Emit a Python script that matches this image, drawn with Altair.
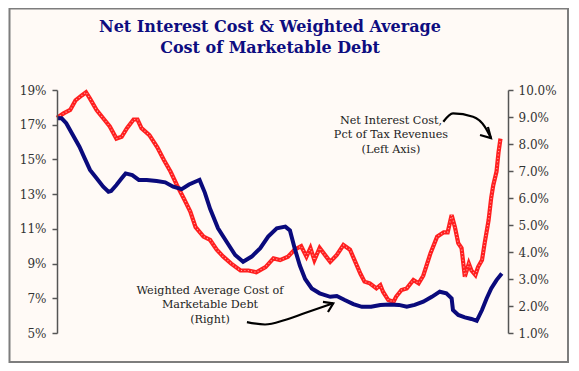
import altair as alt
import pandas as pd

# ---- data ----
red_years = [1990.0, 1990.5, 1991.0, 1991.4, 1991.9, 1992.2, 1992.5, 1993.0, 1993.5, 1994.0,
             1994.5, 1994.9, 1995.3, 1995.8, 1996.1, 1996.4, 1997.0, 1997.6, 1998.1, 1998.6,
             1999.1, 1999.6, 2000.1, 2000.5, 2001.1, 2001.6, 2002.1, 2002.6, 2003.2, 2003.9,
             2004.5, 2005.1, 2005.8, 2006.4, 2006.9, 2007.5, 2008.0, 2008.5, 2008.9, 2009.2,
             2009.5, 2009.9, 2010.4, 2010.7, 2011.2, 2011.7, 2012.2, 2012.6, 2013.0, 2013.3,
             2013.7, 2014.2, 2014.5, 2014.7, 2015.1, 2015.5, 2015.7, 2016.1, 2016.5, 2017.0,
             2017.4, 2017.75, 2018.3, 2018.8, 2019.3, 2019.6, 2019.9, 2020.15, 2020.4, 2020.65,
             2020.9, 2021.2, 2021.4, 2021.7, 2021.9, 2022.2, 2022.4, 2022.7, 2022.9, 2023.05,
             2023.3, 2023.45, 2023.6]
red_values = [17.4, 17.65, 17.85, 18.4, 18.7, 18.87, 18.5, 17.85, 17.37, 16.9,
              16.2, 16.3, 16.8, 17.3, 17.3, 16.8, 16.4, 15.7, 14.97, 14.3,
              13.5, 12.76, 12.0, 11.1, 10.55, 10.36, 9.8, 9.4, 9.0, 8.6,
              8.6, 8.5, 8.8, 9.3, 9.2, 9.4, 9.8, 10.0, 9.4, 9.9,
              9.2, 9.9, 9.4, 9.1, 9.5, 10.07, 9.8, 9.1, 8.4, 7.96,
              7.86, 7.57, 7.76, 7.38, 6.9, 6.8, 7.1, 7.48, 7.57, 8.05,
              7.86, 8.3, 9.6, 10.55, 10.8, 10.8, 11.8, 11.1, 10.17, 9.9,
              8.24, 9.0, 8.6, 8.34, 8.8, 9.2, 10.17, 11.5, 12.8, 13.5,
              14.3, 15.4, 16.2]

blue_years = [1990.0, 1990.35, 1990.7, 1991.2, 1991.7, 1992.1, 1992.5, 1993.0, 1993.5, 1993.9,
              1994.1, 1994.5, 1994.9, 1995.2, 1995.7, 1996.2, 1996.8, 1997.55, 1998.2, 1998.8,
              1999.45, 2000.0, 2000.6, 2000.8, 2001.2, 2001.6, 2002.2, 2002.85, 2003.5, 2004.1,
              2004.75, 2005.4, 2006.0, 2006.65, 2007.3, 2007.65, 2008.0, 2008.4, 2008.8, 2009.3,
              2009.9, 2010.7, 2011.2, 2011.8, 2012.45, 2013.1, 2013.8, 2014.5, 2015.2, 2015.9,
              2016.5, 2017.1, 2017.75, 2018.4, 2019.0, 2019.5, 2019.9, 2020.0, 2020.4, 2020.9,
              2021.4, 2021.8, 2022.2, 2022.55, 2022.9, 2023.3, 2023.7]
blue_values = [8.95, 8.95, 8.77, 8.33, 7.9, 7.47, 7.04, 6.73, 6.42, 6.23,
               6.26, 6.48, 6.73, 6.91, 6.85, 6.67, 6.67, 6.63, 6.58, 6.42,
               6.33, 6.5, 6.63, 6.67, 6.2, 5.6, 4.88, 4.38, 3.89, 3.64,
               3.83, 4.14, 4.57, 4.88, 4.94, 4.8, 4.15, 3.5, 3.0, 2.65,
               2.47, 2.34, 2.37, 2.22, 2.07, 1.97, 1.97, 2.04, 2.06, 2.04,
               1.97, 2.04, 2.16, 2.34, 2.53, 2.47, 2.28, 1.85, 1.67, 1.58,
               1.52, 1.45, 1.85, 2.28, 2.65, 2.96, 3.2]

x_ticks = [1990, 1993, 1996, 1999, 2002, 2005, 2008, 2011, 2014, 2017, 2020, 2023]
left_ticks = [5, 7, 9, 11, 13, 15, 17, 19]
right_ticks = [1, 2, 3, 4, 5, 6, 7, 8, 9, 10]

title_lines = ["Net Interest Cost & Weighted Average", "Cost of Marketable Debt"]
note1_lines = ["Net Interest Cost,", "Pct of Tax Revenues", "(Left Axis)"]
note1_x = [2015.3, 2015.3, 2015.3]
note1_y = [17.21, 16.41, 15.54]
note2_lines = ["Weighted Average Cost of", "Marketable Debt", "(Right)"]
note2_x = [2001.59, 2001.59, 2001.59]
note2_y = [7.42, 6.61, 5.75]

# annotation arrows (in left-axis data units)
arrow1_x = [2019.27, 2020.0, 2021.52, 2022.42, 2022.88]
arrow1_y = [17.17, 17.65, 17.46, 16.88, 16.23]
arrow1_head_x = [2022.05, 2022.88, 2022.65]
arrow1_head_y = [16.41, 16.23, 16.87]
arrow2_x = [2004.39, 2005.76, 2007.27, 2008.79, 2010.93]
arrow2_y = [5.63, 5.49, 5.75, 6.15, 6.71]
arrow2_head_x = [2010.15, 2010.93, 2010.53]
arrow2_head_y = [6.79, 6.71, 6.21]

SERIF = "DejaVu Serif"
XDOM = [1990, 2024.17]
LDOM = [5, 19]
RDOM = [1, 10]

red_df = pd.DataFrame({"year": red_years, "value": red_values})
blue_df = pd.DataFrame({"year": blue_years, "value": blue_values})

xenc = alt.X("year:Q", scale=alt.Scale(domain=XDOM, nice=False, zero=False),
             axis=alt.Axis(values=x_ticks, ticks=False, labelPadding=8, title=None,
                           labelExpr="\"'\" + slice(toString(datum.value), 2)",
                           grid=False, labelFontSize=12, zindex=2))
xnone = alt.X("year:Q", scale=alt.Scale(domain=XDOM, nice=False, zero=False), axis=None)

def yleft(axis=None):
    return alt.Y("value:Q", scale=alt.Scale(domain=LDOM, nice=False, zero=False), axis=axis)

frame = alt.Chart(pd.DataFrame({"a": [0]})).mark_rect(
    fill="#fffaf6", stroke="#7d7d7d", strokeWidth=2
).encode(x=alt.value(-47.5), x2=alt.value(511), y=alt.value(-81.5), y2=alt.value(272))

title = alt.Chart(pd.DataFrame({"t": title_lines, "py": [-63, -42]})).mark_text(
    font=SERIF, fontSize=16, fontWeight="bold", color="#0d0d80", align="center", baseline="middle"
).encode(x=alt.value(213), y=alt.Y("py:Q", scale=None), text="t:N")

red = alt.Chart(red_df).mark_line(color="#ff1f1f", strokeWidth=4.2).encode(
    x=xenc,
    y=yleft(alt.Axis(values=left_ticks, title=None, grid=False, tickSize=5, labelPadding=6,
                     labelExpr="datum.value + '%'", labelFontSize=12, zindex=2)),
)
red_tex = alt.Chart(red_df).mark_line(color="#ffa8a8", strokeWidth=1.2, strokeDash=[1, 2.4]).encode(
    x=xnone, y=yleft()
)

blue = alt.Chart(blue_df).mark_line(color="#0a0a7c", strokeWidth=4).encode(
    x=xnone,
    y=alt.Y("value:Q", scale=alt.Scale(domain=RDOM, nice=False, zero=False),
            axis=alt.Axis(orient="right", values=right_ticks, title=None, grid=False,
                          tickSize=5, labelPadding=5,
                          labelExpr="format(datum.value, '.1f') + '%'", labelFontSize=12, zindex=2)),
)

def notes(xs, ys, lines):
    df = pd.DataFrame({"year": xs, "value": ys, "t": lines})
    return alt.Chart(df).mark_text(font=SERIF, fontSize=11.2, color="#222222",
                                   align="center", baseline="middle").encode(
        x=xnone, y=yleft(), text="t:N")

def arrow(xs, ys, interp):
    df = pd.DataFrame({"year": xs, "value": ys, "o": list(range(len(xs)))})
    return alt.Chart(df).mark_line(color="black", strokeWidth=2.2, interpolate=interp).encode(
        x=xnone, y=yleft(), order="o:Q")

chart = alt.layer(
    frame, title, red, red_tex, blue,
    notes(note1_x, note1_y, note1_lines), notes(note2_x, note2_y, note2_lines),
    arrow(arrow1_x, arrow1_y, "monotone"), arrow(arrow1_head_x, arrow1_head_y, "linear"),
    arrow(arrow2_x, arrow2_y, "monotone"), arrow(arrow2_head_x, arrow2_head_y, "linear"),
).resolve_scale(y="independent").properties(
    width=451, height=243,
    autosize=alt.AutoSizeParams(type="none"),
    padding={"left": 49, "top": 82, "right": 63, "bottom": 30},
).configure(background="white").configure_view(stroke=None).configure_axis(
    labelFont=SERIF, labelColor="#333333", domainColor="#555555", tickColor="#555555",
    domainWidth=1.5, tickWidth=1.5
)

chart.save("out.html", embed_options={"renderer": "svg", "actions": False})
